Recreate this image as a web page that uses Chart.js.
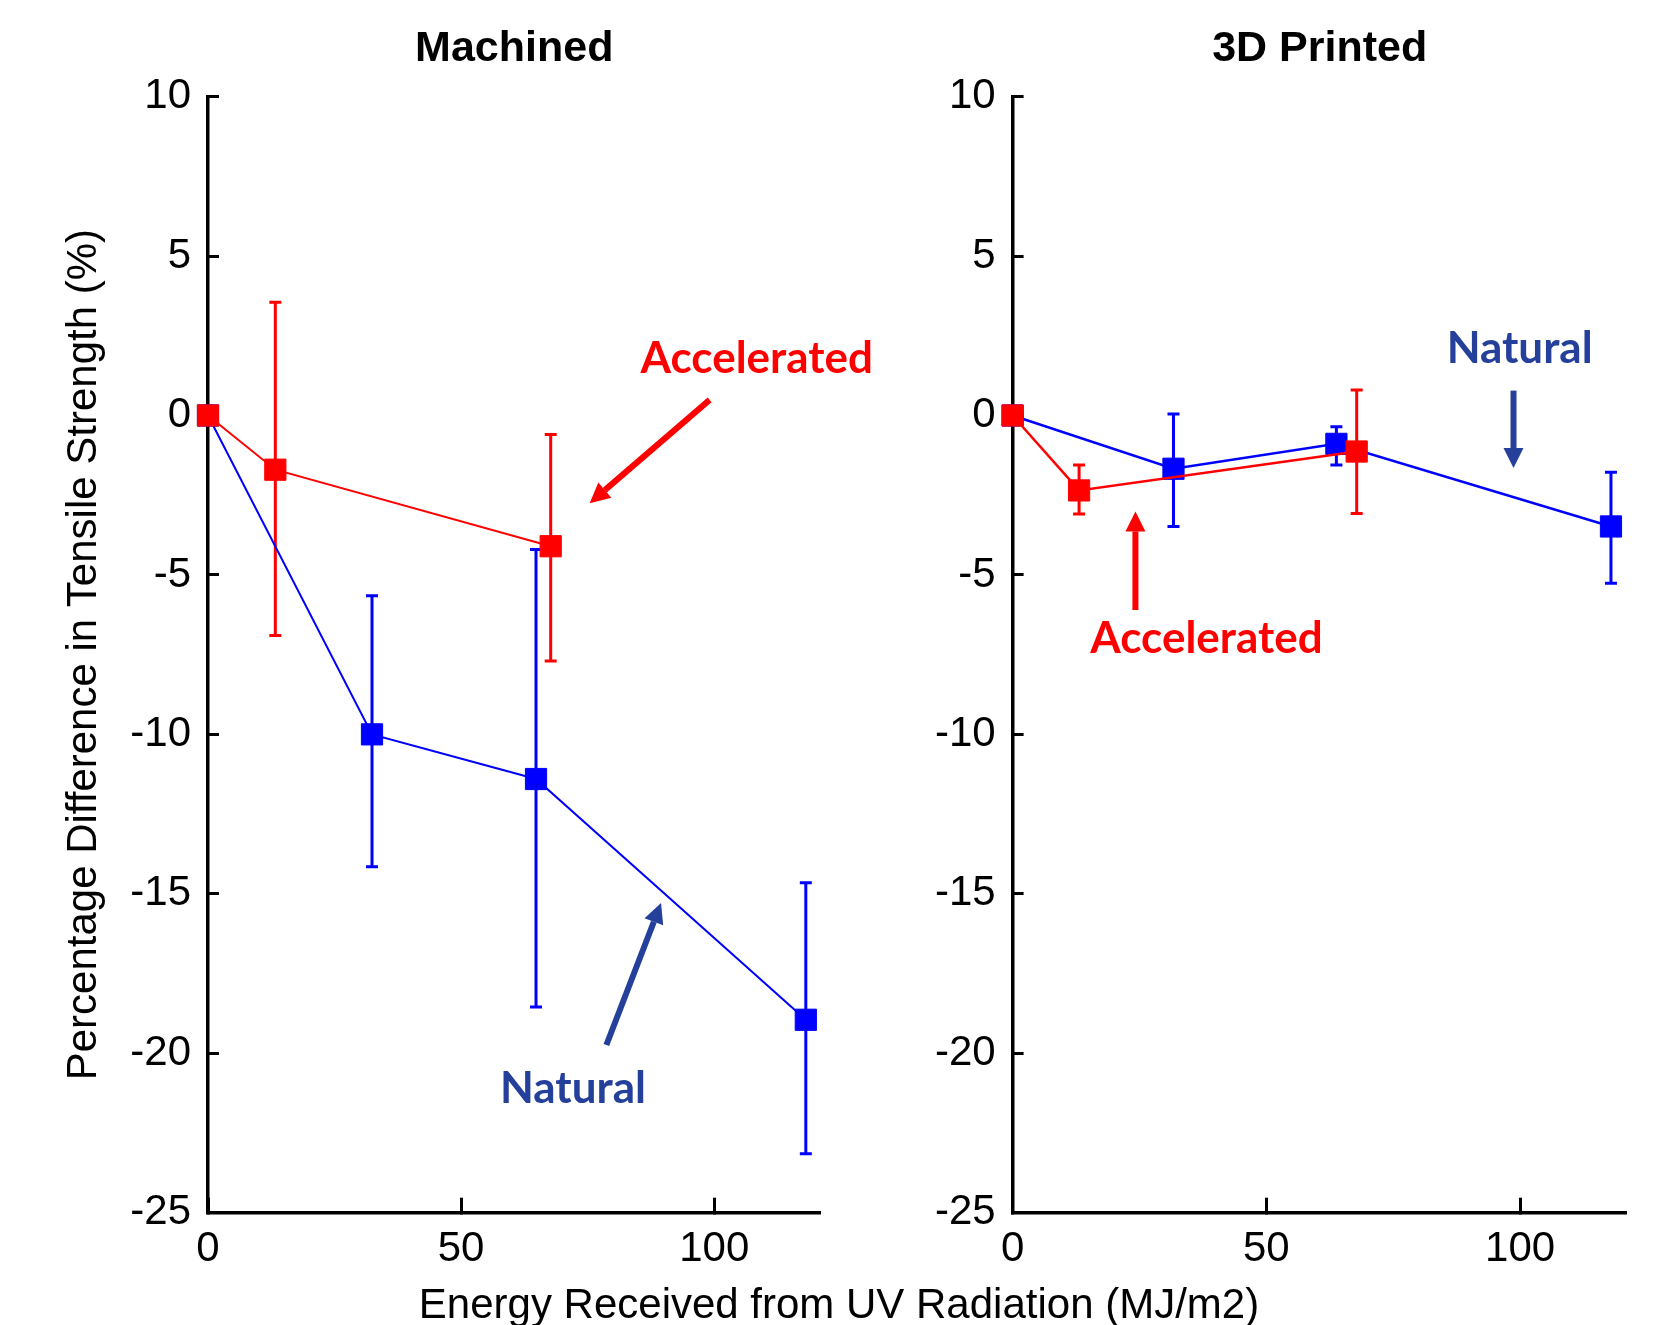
<!DOCTYPE html>
<html>
<head>
<meta charset="utf-8">
<title>UV tensile strength</title>
<script src="https://cdn.jsdelivr.net/npm/chart.js@4.4.1/dist/chart.umd.min.js"></script>
<style>
  html, body { margin: 0; padding: 0; background: #fff; overflow: hidden; }
  #wrap { position: relative; width: 1660px; height: 1325px; }
  #machined { position: absolute; left: 0; top: 0; }
  #printed { position: absolute; left: 915px; top: 0; }
  #xtitle {
    position: absolute; left: 339px; top: 1283px; width: 1000px;
    text-align: center; white-space: nowrap; color: #000;
    font: 42px 'Liberation Sans', Arial, sans-serif; line-height: 42px;
  }
</style>
</head>
<body>
<div id="wrap">
  <canvas id="machined" width="915" height="1325"></canvas>
  <canvas id="printed" width="745" height="1325"></canvas>
  <div id="xtitle">Energy Received from UV Radiation (MJ/m2)</div>
</div>
<script>
const RED = '#ff0000';
const BLUE = '#0000ff';
const NAVY = '#24409a';
const FONT = "'Liberation Sans', Arial, Helvetica, sans-serif";

// axes
const xTickValues = [0, 50, 100];
const xMax = 121;
const yMin = -25, yMax = 10, yStep = 5;

// Machined
const machinedNaturalX = [0, 32.4, 64.8, 118.1];
const machinedNaturalY = [0, -10.0, -11.4, -18.95];
const machinedNaturalHigh = [null, -5.65, -4.2, -14.65];
const machinedNaturalLow = [null, -14.15, -18.55, -23.15];

const machinedAccelX = [0, 13.3, 67.7];
const machinedAccelY = [0, -1.7, -4.1];
const machinedAccelHigh = [null, 3.55, -0.6];
const machinedAccelLow = [null, -6.9, -7.7];

// 3D Printed
const printedNaturalX = [0, 31.7, 63.8, 117.9];
const printedNaturalY = [0, -1.67, -0.89, -3.48];
const printedNaturalHigh = [null, 0.05, -0.35, -1.78];
const printedNaturalLow = [null, -3.48, -1.55, -5.26];

const printedAccelX = [0, 13.1, 67.8];
const printedAccelY = [0, -2.35, -1.13];
const printedAccelHigh = [null, -1.55, 0.8];
const printedAccelLow = [null, -3.09, -3.07];

// callouts, in data units (text x = centre, y = baseline)
const machinedLabels = [
  { text: 'Accelerated', x: 108.4, y: 1.33, color: RED },
  { text: 'Natural', x: 72.1, y: -21.57, color: NAVY }
];
const machinedArrows = [
  { x1: 99.1, y1: 0.49, x2: 75.4, y2: -2.75, color: RED },
  { x1: 78.7, y1: -19.74, x2: 89.5, y2: -15.29, color: NAVY }
];
const printedLabels = [
  { text: 'Natural', x: 99.9, y: 1.64, color: NAVY },
  { text: 'Accelerated', x: 38.2, y: -7.45, color: RED }
];
const printedArrows = [
  { x1: 98.7, y1: 0.78, x2: 98.7, y2: -1.65, color: NAVY },
  { x1: 24.2, y1: -6.1, x2: 24.2, y2: -3.01, color: RED }
];

function toPoints(xs, ys) {
  return xs.map((x, i) => ({ x: x, y: ys[i] }));
}

// vertical error bars with small caps, drawn under the lines and markers
const errorBars = {
  id: 'errorBars',
  beforeDatasetsDraw(chart) {
    const { ctx, scales: { x, y } } = chart;
    chart.data.datasets.forEach(ds => {
      ctx.save();
      ctx.strokeStyle = ds.borderColor;
      ctx.lineWidth = 3;
      ds.data.forEach((p, i) => {
        if (ds.errHigh[i] == null) return;
        const px = x.getPixelForValue(p.x);
        const top = y.getPixelForValue(ds.errHigh[i]);
        const bot = y.getPixelForValue(ds.errLow[i]);
        ctx.beginPath();
        ctx.moveTo(px, top); ctx.lineTo(px, bot);
        ctx.moveTo(px - 6, top); ctx.lineTo(px + 6, top);
        ctx.moveTo(px - 6, bot); ctx.lineTo(px + 6, bot);
        ctx.stroke();
      });
      ctx.restore();
    });
  }
};

function drawArrow(ctx, x1, y1, x2, y2, color) {
  const ang = Math.atan2(y2 - y1, x2 - x1);
  const head = 20, half = 10;
  const bx = x2 - head * Math.cos(ang), by = y2 - head * Math.sin(ang);
  ctx.strokeStyle = color;
  ctx.fillStyle = color;
  ctx.lineWidth = 6;
  ctx.beginPath();
  ctx.moveTo(x1, y1);
  ctx.lineTo(bx, by);
  ctx.stroke();
  ctx.beginPath();
  ctx.moveTo(x2, y2);
  ctx.lineTo(bx + half * Math.sin(ang), by - half * Math.cos(ang));
  ctx.lineTo(bx - half * Math.sin(ang), by + half * Math.cos(ang));
  ctx.closePath();
  ctx.fill();
}

const callouts = {
  id: 'callouts',
  afterDraw(chart, args, opts) {
    const { ctx, scales: { x, y } } = chart;
    ctx.save();
    ctx.font = "bold 44px Lato, 'Open Sans', sans-serif";
    ctx.textAlign = 'center';
    ctx.textBaseline = 'alphabetic';
    (opts.labels || []).forEach(l => {
      ctx.fillStyle = l.color;
      ctx.fillText(l.text, x.getPixelForValue(l.x), y.getPixelForValue(l.y));
    });
    (opts.arrows || []).forEach(a => {
      drawArrow(ctx, x.getPixelForValue(a.x1), y.getPixelForValue(a.y1),
        x.getPixelForValue(a.x2), y.getPixelForValue(a.y2), a.color);
    });
    ctx.restore();
  }
};

function series(label, xs, ys, hi, lo, color, lw) {
  return {
    label: label,
    data: toPoints(xs, ys),
    errHigh: hi,
    errLow: lo,
    borderColor: color,
    backgroundColor: color,
    borderWidth: lw,
    pointStyle: 'rect',
    pointRadius: 15,
    pointBorderWidth: 1,
    pointBackgroundColor: color,
    pointBorderColor: color,
    tension: 0,
    fill: false,
    clip: false
  };
}

function makeChart(id, title, datasets, labels, arrows, yAxisWidth, padRight, yTitle) {
  const axisLine = { display: true, color: '#000', width: 3.5 };
  return new Chart(document.getElementById(id), {
    type: 'line',
    data: { datasets: datasets },
    options: {
      responsive: false,
      animation: false,
      events: [],
      devicePixelRatio: 1,
      layout: { padding: { left: 0, right: padRight, top: 0, bottom: 42.3 } },
      plugins: {
        legend: { display: false },
        tooltip: { enabled: false },
        title: {
          display: true,
          text: title,
          fullSize: false,
          color: '#000',
          font: { family: FONT, size: 43, weight: 'bold' },
          padding: { top: 23, bottom: 22 }
        },
        callouts: { labels: labels, arrows: arrows }
      },
      scales: {
        x: {
          type: 'linear',
          min: 0,
          max: xMax,
          afterBuildTicks: s => { s.ticks = xTickValues.map(v => ({ value: v })); },
          afterFit: s => { s.height = 70; },
          ticks: { color: '#000', font: { family: FONT, size: 42 }, padding: 27, maxRotation: 0 },
          grid: { display: true, drawOnChartArea: false, drawTicks: true, tickLength: -15, tickWidth: 3, color: '#000' },
          border: axisLine
        },
        y: {
          type: 'linear',
          min: yMin,
          max: yMax,
          afterFit: s => { s.width = yAxisWidth; },
          ticks: { stepSize: yStep, color: '#000', font: { family: FONT, size: 42 }, padding: 28 },
          grid: { display: true, drawOnChartArea: false, drawTicks: true, tickLength: -11, tickWidth: 3, color: '#000' },
          border: axisLine,
          title: {
            display: !!yTitle,
            text: yTitle || '',
            color: '#000',
            font: { family: FONT, size: 42 },
            padding: { top: 59, bottom: 0 }
          }
        }
      }
    },
    plugins: [errorBars, callouts]
  });
}

makeChart('machined', 'Machined', [
  series('Accelerated', machinedAccelX, machinedAccelY, machinedAccelHigh, machinedAccelLow, RED, 2),
  series('Natural', machinedNaturalX, machinedNaturalY, machinedNaturalHigh, machinedNaturalLow, BLUE, 2)
], machinedLabels, machinedArrows, 208, 94.5, 'Percentage Difference in Tensile Strength (%)');

makeChart('printed', '3D Printed', [
  series('Accelerated', printedAccelX, printedAccelY, printedAccelHigh, printedAccelLow, RED, 2.5),
  series('Natural', printedNaturalX, printedNaturalY, printedNaturalHigh, printedNaturalLow, BLUE, 2.5)
], printedLabels, printedArrows, 97.6, 33.3, null);
</script>
</body>
</html>
